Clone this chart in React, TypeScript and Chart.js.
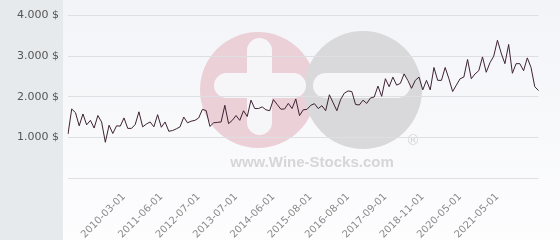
import React, { useEffect, useRef } from "react";
import { Chart, registerables } from "chart.js";

Chart.register(...registerables);

const categories: string[] = [
  "2008-10-01", "2008-11-01", "2008-12-01", "2009-01-01", "2009-02-01", "2009-03-01", "2009-05-01", "2009-06-01",
  "2009-07-01", "2009-09-01", "2009-10-01", "2009-11-01", "2009-12-01", "2010-01-01", "2010-02-01",
  "2010-03-01",
  "2010-04-01", "2010-06-01", "2010-07-01", "2010-09-01", "2010-10-01", "2010-12-01", "2011-01-01", "2011-03-01", "2011-04-01",
  "2011-06-01",
  "2011-07-01", "2011-08-01", "2011-10-01", "2011-11-01", "2011-12-01", "2012-02-01", "2012-03-01", "2012-04-01", "2012-06-01",
  "2012-07-01",
  "2012-08-01", "2012-09-01", "2012-10-01", "2012-11-01", "2013-01-01", "2013-02-01", "2013-03-01", "2013-04-01", "2013-06-01",
  "2013-07-01",
  "2013-08-01", "2013-09-01", "2013-10-01", "2013-11-01", "2013-12-01", "2014-01-01", "2014-02-01", "2014-04-01", "2014-05-01",
  "2014-06-01",
  "2014-07-01", "2014-08-01", "2014-10-01", "2014-11-01", "2015-01-01", "2015-02-01", "2015-04-01", "2015-05-01", "2015-07-01",
  "2015-08-01",
  "2015-09-01", "2015-10-01", "2015-11-01", "2015-12-01", "2016-01-01", "2016-02-01", "2016-04-01", "2016-05-01", "2016-07-01",
  "2016-08-01",
  "2016-09-01", "2016-10-01", "2016-11-01", "2017-01-01", "2017-02-01", "2017-03-01", "2017-05-01", "2017-06-01", "2017-08-01",
  "2017-09-01",
  "2017-10-01", "2017-11-01", "2018-01-01", "2018-02-01", "2018-03-01", "2018-05-01", "2018-06-01", "2018-08-01", "2018-09-01",
  "2018-11-01",
  "2018-12-01", "2019-02-01", "2019-04-01", "2019-06-01", "2019-08-01", "2019-09-01", "2019-11-01", "2020-01-01", "2020-03-01",
  "2020-05-01",
  "2020-06-01", "2020-07-01", "2020-08-01", "2020-09-01", "2020-11-01", "2020-12-01", "2021-01-01", "2021-02-01", "2021-04-01",
  "2021-05-01",
  "2021-06-01", "2021-07-01", "2021-08-01", "2021-09-01", "2021-10-01", "2021-11-01", "2021-12-01", "2022-01-01", "2022-02-01",
  "2022-03-01", "2022-04-01",
];

const prices: number[] = [
  1080, 1700, 1610, 1285, 1577, 1310, 1420, 1230, 1538, 1380,
  880, 1300, 1096, 1285, 1278, 1480, 1222, 1222, 1317, 1630,
  1260, 1330, 1380, 1260, 1560, 1250, 1380, 1150, 1170, 1210,
  1260, 1500, 1360, 1400, 1420, 1480, 1690, 1660, 1270, 1360,
  1370, 1380, 1790, 1340, 1420, 1538, 1420, 1657, 1515, 1917,
  1711, 1711, 1751, 1680, 1657, 1931, 1813, 1695, 1700, 1837,
  1711, 1948, 1538, 1680, 1690, 1790, 1830, 1711, 1780, 1657,
  2050, 1853, 1657, 1931, 2090, 2144, 2130, 1813, 1798, 1917,
  1837, 1971, 1995, 2263, 2012, 2445, 2249, 2485, 2288, 2330,
  2563, 2405, 2209, 2405, 2485, 2170, 2405, 2170, 2722, 2405,
  2405, 2722, 2445, 2130, 2288, 2445, 2485, 2919, 2445, 2564,
  2643, 2982, 2604, 2840, 3000, 3392, 3077, 2816, 3290, 2580,
  2816, 2816, 2643, 2958, 2722, 2249, 2154,
];

const shownLabels: string[] = [
  "2010-03-01", "2011-06-01", "2012-07-01", "2013-07-01", "2014-06-01", "2015-08-01",
  "2016-08-01", "2017-09-01", "2018-11-01", "2020-05-01", "2021-05-01",
];

const yTickValues: number[] = [0, 1000, 2000, 3000, 4000];
const yTickLabels: string[] = ["", "1.000 $", "2.000 $", "3.000 $", "4.000 $"];

const backgroundPlugin = {
  id: "bgWatermark",
  beforeDraw(chart: any) {
    const { ctx, width, height } = chart;
    ctx.save();
    const grad = ctx.createLinearGradient(0, 0, 0, height);
    grad.addColorStop(0, "#f3f4f8");
    grad.addColorStop(1, "#fdfdfe");
    ctx.fillStyle = grad;
    ctx.fillRect(0, 0, width, height);
    ctx.fillStyle = "#e7eaed";
    ctx.fillRect(0, 0, 63, height);

    // watermark
    ctx.fillStyle = "#ebd0d7";
    ctx.beginPath();
    ctx.arc(258, 90, 58, 0, Math.PI * 2);
    ctx.fill();
    ctx.fillStyle = "#d9d9db";
    ctx.beginPath();
    ctx.arc(363, 90, 59, 0, Math.PI * 2);
    ctx.fill();
    const bar = (x: number, y: number, w: number, h: number) => {
      const r = Math.min(w, h) / 2;
      ctx.beginPath();
      ctx.roundRect(x, y, w, h, r);
      ctx.fill();
    };
    ctx.fillStyle = "#f6f6f9";
    bar(247, 38, 25, 97);
    bar(214, 73, 92, 25);
    bar(313, 73, 97, 25);
    ctx.fillStyle = "#d6d6d8";
    ctx.font = "bold 15px 'Liberation Sans', Arial, sans-serif";
    ctx.textAlign = "center";
    ctx.textBaseline = "alphabetic";
    ctx.fillText("www.Wine-Stocks.com", 312, 167);
    ctx.font = "14px 'DejaVu Sans', sans-serif";
    ctx.fillText("®", 413, 145);
    ctx.restore();
  },
};

export default function App() {
  const canvasRef = useRef<HTMLCanvasElement | null>(null);

  useEffect(() => {
    if (!canvasRef.current) return;
    const chart = new Chart(canvasRef.current, {
      type: "line",
      data: {
        labels: categories,
        datasets: [
          {
            data: prices,
            borderColor: "#3d2233",
            borderWidth: 1,
            pointRadius: 0,
            tension: 0,
            fill: false,
          },
        ],
      },
      options: {
        responsive: false,
        animation: false,
        layout: { padding: { top: 9, right: 6, left: 0, bottom: 0 } },
        plugins: { legend: { display: false }, tooltip: { enabled: false } },
        scales: {
          x: {
            grid: { display: false, drawTicks: false },
            border: { display: false },
            afterFit: (scale: any) => {
              scale.height = 62;
            },
            ticks: {
              autoSkip: false,
              minRotation: 45,
              maxRotation: 45,
              padding: 13,
              color: "#8a8a8a",
              font: { family: "'DejaVu Sans', sans-serif", size: 10 },
              callback: (_v: any, index: number) => {
                const l = categories[index];
                return shownLabels.includes(l) ? l : "";
              },
            },
          },
          y: {
            min: 0,
            max: 4000,
            afterFit: (scale: any) => {
              scale.width = 68;
            },
            afterBuildTicks: (scale: any) => {
              scale.ticks = yTickValues.map((v) => ({ value: v }));
            },
            grid: { color: "#dedfe2", drawTicks: false, lineWidth: 1 },
            border: { display: false },
            ticks: {
              padding: 9,
              color: "#555555",
              font: { family: "'DejaVu Sans', sans-serif", size: 11 },
              callback: (v: any) => {
                const i = yTickValues.indexOf(Number(v));
                return i >= 0 ? yTickLabels[i] : "";
              },
            },
          },
        },
      },
      plugins: [backgroundPlugin],
    });
    return () => chart.destroy();
  }, []);

  return (
    <div style={{ position: "absolute", left: 0, top: 0, width: 560, height: 240 }}>
      <canvas ref={canvasRef} width={560} height={240} style={{ width: 560, height: 240 }} />
    </div>
  );
}
